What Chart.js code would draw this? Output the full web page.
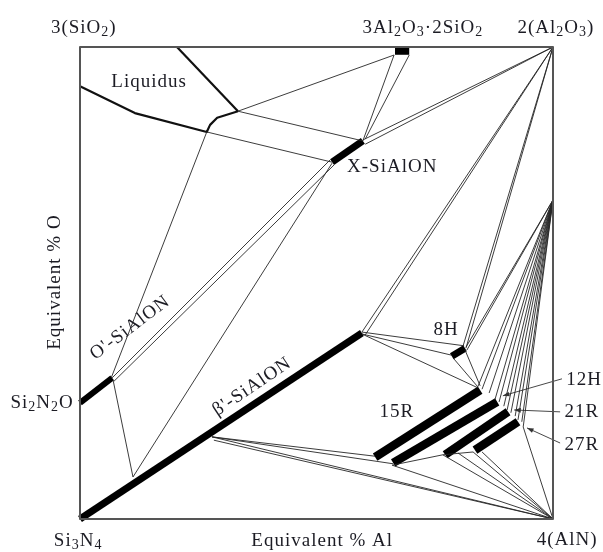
<!DOCTYPE html>
<html lang="en">
<head>
<meta charset="UTF-8">
<title>Si-Al-O-N behaviour diagram</title>
<style>
  body { margin: 0; background: #fff; }
  #chart { display: block; }
</style>
</head>
<body>
<canvas id="chart" width="603" height="552"></canvas>
<script src="https://cdn.jsdelivr.net/npm/chart.js@4.4.1/dist/chart.umd.min.js"></script>
<script>
// corners of the square (equivalent % Al, equivalent % O)
const SI3N4 = [0, 0], ALN = [100, 0], AL2O3 = [100, 100], SIO2 = [0, 100];
const ALON = [100, 67.6];

// liquidus boundaries
const liquidusTop = [[20.5, 100], [33.4, 86.4]];
const liquidusLeft = [[0, 91.7], [11.6, 86.0], [26.8, 82.0], [27.5, 83.5], [29.0, 85.0], [33.4, 86.4]];

// single phase regions drawn as thick bars
const betaBar = [[0, 0], [59.6, 39.4]];
const oBar = [[0, 24.6], [6.8, 29.9]];
const xBar = [[53.3, 75.6], [59.8, 80.1]];
const mulliteBar = [[66.6, 99.2], [69.6, 99.2]];
const h8Bar = [[78.6, 34.5], [81.4, 36.2]];
const polytypeNames = ['15R', '12H', '21R', '27R'];
const polytypeBars = [
  [[62.4, 13.1], [84.6, 27.3]],
  [[66.2, 11.9], [88.2, 24.8]],
  [[77.2, 13.6], [90.5, 22.7]],
  [[83.5, 14.6], [92.6, 20.6]]
];

// tie lines fanning out of the corners
const al2o3Ties = [[59.6, 39.6], [60.3, 39.0], [59.8, 80.3], [60.3, 79.4], [81.0, 36.7], [81.6, 36.2]];
const alonTies = [[81.6, 36.4], [81.8, 35.8], [84.1, 28.0], [85.0, 27.5], [86.5, 26.7], [87.7, 25.2],
  [88.6, 24.8], [89.6, 23.9], [90.3, 23.1], [91.1, 22.5], [92.0, 21.8], [92.6, 21.0], [93.4, 20.6], [93.7, 19.5]];
const alnTies = [[27.9, 17.4], [28.3, 16.7], [66.0, 11.4], [76.7, 13.6], [79.9, 14.0], [83.1, 14.2], [85.0, 14.2], [93.7, 19.5]];

// other tie lines
const tieLines = [
  [[33.4, 86.4], [66.4, 98.3]],
  [[66.4, 98.3], [59.8, 80.1]],
  [[69.6, 98.3], [60.3, 80.5]],
  [[33.4, 86.4], [59.8, 80.1]],
  [[26.8, 82.0], [53.3, 75.6]],
  [[26.8, 82.0], [6.6, 29.9]],
  [[6.8, 29.9], [52.9, 76.1]],
  [[7.2, 29.2], [53.7, 75.0]],
  [[7.0, 29.4], [11.2, 8.9]],
  [[11.2, 8.9], [53.3, 75.4]],
  [[59.6, 39.2], [78.6, 34.7]],
  [[59.6, 39.6], [81.2, 36.7]],
  [[59.6, 39.2], [84.1, 27.8]],
  [[78.9, 34.1], [84.1, 28.0]],
  [[81.4, 35.8], [84.6, 28.2]],
  [[27.9, 17.4], [62.4, 13.3]],
  [[27.9, 17.4], [66.2, 11.7]],
  [[66.0, 11.4], [76.7, 13.6]],
  [[76.7, 13.6], [83.1, 14.2]]
];

// arrows from the polytype labels
const arrowLines = [
  [[101.9, 29.7], [89.4, 26.1]],
  [[101.5, 22.7], [91.8, 23.1]],
  [[101.5, 16.1], [94.5, 19.3]]
];

// text labels: [text, x, y, angle]; "_" marks a subscript character
const labels = [
  ['3(SiO_2)', 0.8, 104.0, 0],
  ['3Al_2O_3·2SiO_2', 72.5, 104.0, 0],
  ['2(Al_2O_3)', 100.6, 104.0, 0],
  ['Liquidus', 14.6, 92.6, 0],
  ['X-SiAlON', 66.0, 74.6, 0],
  ["O'-SiAlON", 10.6, 40.5, -37],
  ["β'-SiAlON", 36.4, 28.0, -34],
  ['Equivalent % O', -5.3, 50.2, -90],
  ['Si_2N_2O', -8.0, 24.6, 0],
  ['Si_3N_4', -0.4, -4.7, 0],
  ['Equivalent % Al', 51.2, -4.7, 0],
  ['4(AlN)', 103.0, -4.5, 0],
  ['8H', 77.4, 40.0, 0],
  ['15R', 67.0, 22.7, 0],
  ['12H', 106.6, 29.4, 0],
  ['21R', 106.1, 22.7, 0],
  ['27R', 106.1, 15.7, 0]
];

const THIN = '#262626';
const datasets = [];

function seg(points, width, color) {
  datasets.push({
    data: points.map(p => ({ x: p[0], y: p[1] })),
    showLine: true,
    borderColor: color,
    backgroundColor: color,
    borderWidth: width,
    pointRadius: 0,
    borderCapStyle: 'butt',
    borderJoinStyle: 'round',
    clip: false
  });
}

// frame
seg([SI3N4, ALN, AL2O3, SIO2, SI3N4], 2, '#555');

tieLines.forEach(l => seg(l, 0.9, THIN));
al2o3Ties.forEach(p => seg([p, AL2O3], 0.9, THIN));
alonTies.forEach(p => seg([p, ALON], 0.9, THIN));
alnTies.forEach(p => seg([p, ALN], 0.9, THIN));
arrowLines.forEach(l => seg(l, 0.9, '#333'));

seg(liquidusTop, 2.2, '#111');
seg(liquidusLeft, 2.2, '#111');

seg(betaBar, 7, '#000');
seg(oBar, 6, '#000');
seg(xBar, 7, '#000');
seg(mulliteBar, 8, '#000');
seg(h8Bar, 7, '#000');
polytypeBars.forEach(b => seg(b, 8.5, '#000'));

function drawRich(ctx, str, size) {
  const parts = [];
  for (let i = 0; i < str.length; i++) {
    if (str[i] === '_') { parts.push([str[i + 1], true]); i++; }
    else parts.push([str[i], false]);
  }
  const big = size + 'px "Liberation Serif", serif';
  const small = Math.round(size * 0.75) + 'px "Liberation Serif", serif';
  let total = 0;
  parts.forEach(p => { ctx.font = p[1] ? small : big; total += ctx.measureText(p[0]).width; });
  let cx = -total / 2;
  parts.forEach(p => {
    ctx.font = p[1] ? small : big;
    ctx.fillText(p[0], cx, p[1] ? size * 0.22 : 0);
    cx += ctx.measureText(p[0]).width;
  });
}

const labelPlugin = {
  id: 'diagramLabels',
  afterDatasetsDraw(chart) {
    const { ctx, scales: { x, y } } = chart;
    ctx.save();
    ctx.fillStyle = '#1c1c24';
    ctx.textBaseline = 'middle';
    ctx.textAlign = 'left';
    ctx.letterSpacing = '1px';
    labels.forEach(([text, lx, ly, ang]) => {
      ctx.save();
      ctx.translate(x.getPixelForValue(lx), y.getPixelForValue(ly));
      ctx.rotate(ang * Math.PI / 180);
      drawRich(ctx, text, 19);
      ctx.restore();
    });
    // arrow heads
    ctx.fillStyle = '#333';
    arrowLines.forEach(([a, b]) => {
      const x0 = x.getPixelForValue(a[0]), y0 = y.getPixelForValue(a[1]);
      const x1 = x.getPixelForValue(b[0]), y1 = y.getPixelForValue(b[1]);
      const t = Math.atan2(y1 - y0, x1 - x0);
      ctx.beginPath();
      ctx.moveTo(x1, y1);
      ctx.lineTo(x1 - 7 * Math.cos(t - 0.35), y1 - 7 * Math.sin(t - 0.35));
      ctx.lineTo(x1 - 7 * Math.cos(t + 0.35), y1 - 7 * Math.sin(t + 0.35));
      ctx.closePath();
      ctx.fill();
    });
    ctx.restore();
  }
};

new Chart(document.getElementById('chart'), {
  type: 'scatter',
  data: { datasets: datasets },
  options: {
    responsive: false,
    animation: false,
    devicePixelRatio: 1,
    layout: { padding: { left: 80, top: 47, right: 50, bottom: 33 } },
    plugins: { legend: { display: false }, tooltip: { enabled: false } },
    scales: {
      x: { type: 'linear', min: 0, max: 100, display: false },
      y: { type: 'linear', min: 0, max: 100, display: false }
    }
  },
  plugins: [labelPlugin]
});
</script>
</body>
</html>
